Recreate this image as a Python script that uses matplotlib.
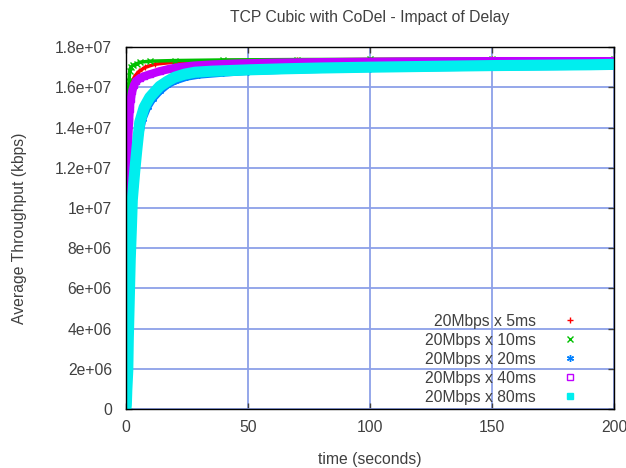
import numpy as np
import matplotlib
matplotlib.use("Agg")
import matplotlib.pyplot as plt

plt.rcParams['font.family'] = ['Liberation Sans', 'DejaVu Sans']

# average throughput (in millions of kbps) against time (s), one series per delay
t_5ms = [0, 0.1, 0.2, 0.35, 0.5, 0.7, 0.9, 1.2, 1.6, 2.2, 3, 4, 5.5, 8, 12, 20, 40, 70, 100, 150, 200]
v_5ms = [0, 3.1, 4.0, 7.8, 10.2, 12.0, 13.4, 14.6, 15.5, 16.1, 16.4, 16.6, 16.8, 17.0, 17.15,
         17.25, 17.33, 17.36, 17.38, 17.39, 17.4]

t_10ms = [0, 0.1, 0.2, 0.3, 0.45, 0.6, 0.8, 1.0, 1.3, 1.6, 2.0, 3.0, 4.5, 6, 10, 20, 40, 70, 100, 150, 200]
v_10ms = [0, 2.5, 5.5, 8.5, 11.8, 13.5, 14.8, 15.6, 16.3, 16.8, 17.0, 17.1, 17.18, 17.25, 17.3,
          17.33, 17.36, 17.38, 17.39, 17.4, 17.4]

t_20ms = [0, 0.1, 0.3, 0.5, 0.7, 1.0, 1.4, 1.8, 2.3, 2.8, 3.5, 4.5, 5.5, 7, 9, 11, 14, 17, 20, 25, 30,
          40, 50, 70, 100, 150, 200]
v_20ms = [0, 0.9, 1.6, 2.3, 2.9, 3.6, 5.4, 7.2, 8.8, 10.2, 11.4, 12.5, 13.5, 14.4, 15.0, 15.4, 15.8,
          16.1, 16.3, 16.5, 16.6, 16.7, 16.78, 16.86, 16.93, 17.0, 17.05]

t_40ms = [0, 0.15, 0.3, 0.45, 0.6, 0.8, 1.0, 1.3, 1.6, 2.0, 2.6, 3.3, 4.2, 5.7, 7.5, 10, 14, 18, 22, 28,
          35, 45, 60, 80, 112, 150, 200]
v_40ms = [0, 1.3, 3.5, 6.2, 8.6, 11.0, 13.5, 14.3, 14.9, 15.4, 15.8, 16.1, 16.3, 16.45, 16.55, 16.65,
          16.8, 16.92, 17.0, 17.08, 17.13, 17.18, 17.22, 17.25, 17.28, 17.3, 17.3]

t_80ms = [0, 0.2, 0.4, 0.8, 1.0, 1.4, 1.8, 2.25, 2.65, 3.2, 3.7, 4.5, 5.7, 7.5, 9.8, 12, 13.9, 17, 20,
          24, 28.3, 35, 42, 50.8, 65, 80, 100, 112, 130, 150, 170, 190, 200]
v_80ms = [0, 0.2, 0.95, 1.94, 3.44, 5.43, 7.43, 8.92, 10.4, 11.2, 11.9, 12.9, 14.26, 15.0, 15.5, 15.8,
          16.05, 16.3, 16.5, 16.65, 16.75, 16.8, 16.83, 16.87, 16.92, 16.96, 17.0, 17.02, 17.05, 17.08,
          17.1, 17.12, 17.14]

labels = ['20Mbps x 5ms', '20Mbps x 10ms', '20Mbps x 20ms', '20Mbps x 40ms', '20Mbps x 80ms']

x_ticks = [0, 50, 100, 150, 200]
y_ticks = [0, 2e6, 4e6, 6e6, 8e6, 1e7, 1.2e7, 1.4e7, 1.6e7, 1.8e7]
y_tick_labels = ['0', '2e+06', '4e+06', '6e+06', '8e+06', '1e+07', '1.2e+07', '1.4e+07', '1.6e+07', '1.8e+07']

series = [
    (t_5ms, v_5ms, '#ff0000', '+', 'none', 2.5),
    (t_10ms, v_10ms, '#00c000', 'x', 'none', 2.5),
    (t_20ms, v_20ms, '#0080ff', (6, 2, 0), 'none', 5),
    (t_40ms, v_40ms, '#c000ff', 's', 'none', 6),
    (t_80ms, v_80ms, '#00eeee', 's', 'full', 8),
]

TXT = '#404040'
FS = 11.3

fig = plt.figure(figsize=(6.26, 4.68), dpi=100)
ax = fig.add_axes([0.201, 0.126, 0.78, 0.7734])

handles = []
for i, ((t, v, col, mk, fill, band), lab) in enumerate(zip(series, labels)):
    v = np.array(v) * 1e6
    z = 2 + i * 0.1
    # dense samples in the original data form a solid band
    ax.plot(t, v, color=col, lw=band, solid_capstyle='butt', solid_joinstyle='round', zorder=z)
    face = col if fill == 'full' else 'none'
    h, = ax.plot(t, v, ls='none', marker=mk, ms=5, mec=col, mfc=face, mew=1.0, label=lab, zorder=z)
    handles.append(h)

ax.set_xlim(0, 200)
ax.set_ylim(0, 1.8e7)
ax.set_xticks(x_ticks)
ax.set_xticklabels([str(x) for x in x_ticks])
ax.set_yticks(y_ticks)
ax.set_yticklabels(y_tick_labels)
ax.grid(True, color='#8ca0e8', lw=1.3, zorder=1)
ax.set_axisbelow(True)
ax.tick_params(direction='in', length=4.5, width=1, color='#404040', top=True, right=True,
               labelsize=FS, labelcolor=TXT)
ax.tick_params(axis='y', pad=10)
ax.tick_params(axis='x', pad=8)
for sp in ax.spines.values():
    sp.set_color('black')
    sp.set_linewidth(1)

ax.set_title('TCP Cubic with CoDel - Impact of Delay', fontsize=FS, color=TXT, pad=18)
ax.set_xlabel('time (seconds)', fontsize=FS, color=TXT, labelpad=12)
ax.set_ylabel('Average Throughput (kbps)', fontsize=FS, color=TXT, labelpad=20)

ax.legend(handles=handles, loc='lower right', bbox_to_anchor=(0.955, -0.006), borderaxespad=0,
          frameon=False, markerfirst=False, fontsize=FS, labelcolor=TXT,
          handletextpad=1.2, labelspacing=0.26, handlelength=2.0)

fig.savefig('out.png', dpi=100)
